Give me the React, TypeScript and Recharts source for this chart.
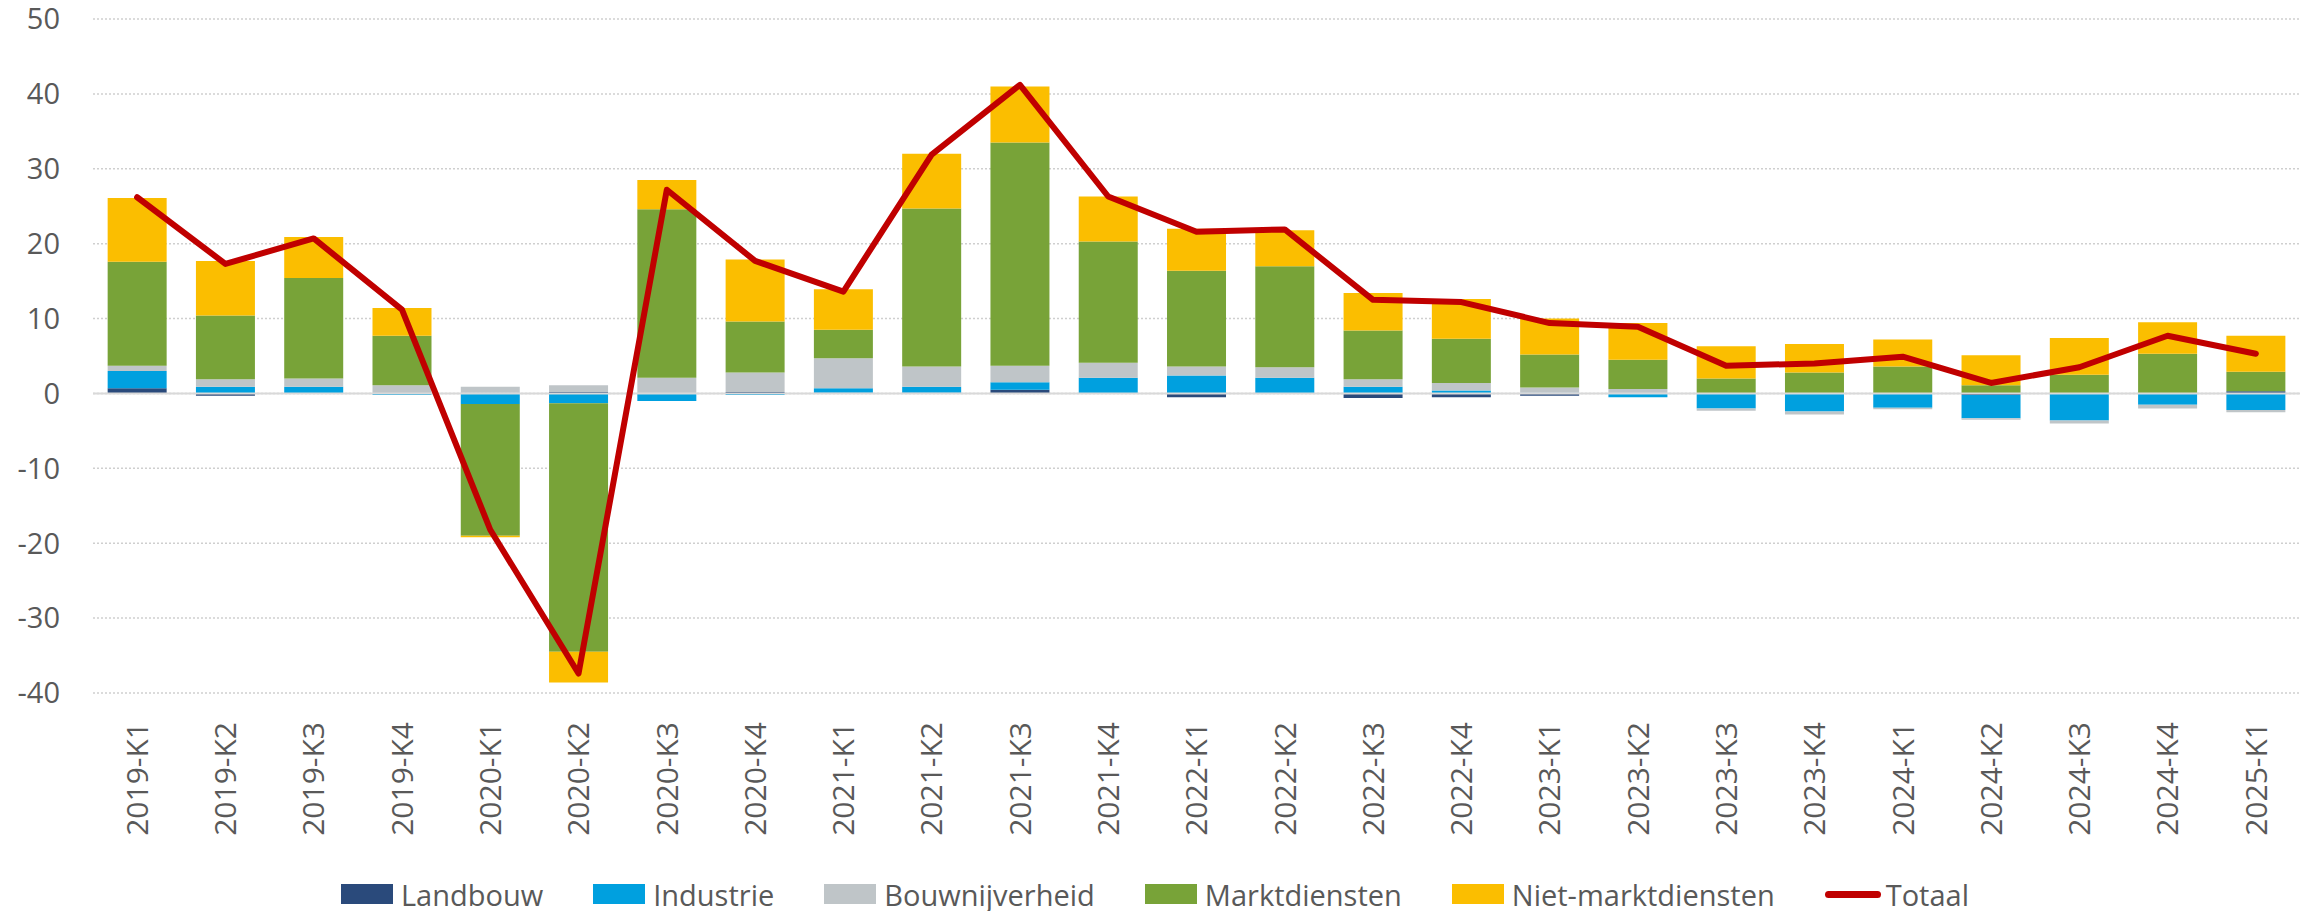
import React from 'react'
import {
  ComposedChart, Bar, Line, XAxis, YAxis, CartesianGrid, Legend, ReferenceLine,
} from 'recharts'

// ─── Data ────────────────────────────────────────────────────────────────────
const categories = [
  '2019-K1', '2019-K2', '2019-K3', '2019-K4',
  '2020-K1', '2020-K2', '2020-K3', '2020-K4',
  '2021-K1', '2021-K2', '2021-K3', '2021-K4',
  '2022-K1', '2022-K2', '2022-K3', '2022-K4',
  '2023-K1', '2023-K2', '2023-K3', '2023-K4',
  '2024-K1', '2024-K2', '2024-K3', '2024-K4',
  '2025-K1',
]

const landbouw = [0.7, -0.3, 0.0, 0.0, 0.1, 0.2, 0.0, 0.2, 0.1, 0.1, 0.5, 0.0, -0.5, 0.0, -0.6, -0.5, -0.3, 0.0, 0.0, 0.0, 0.0, -0.2, 0.0, 0.0, 0.3]
const industrie = [2.3, 0.9, 0.9, -0.2, -1.4, -1.3, -1.0, -0.2, 0.6, 0.8, 1.0, 2.1, 2.4, 2.1, 0.9, 0.4, 0.1, -0.5, -2.0, -2.4, -1.9, -3.1, -3.6, -1.5, -2.2]
const bouwnijverheid = [0.7, 1.0, 1.1, 1.1, 0.8, 0.9, 2.1, 2.6, 4.0, 2.7, 2.2, 2.0, 1.2, 1.4, 1.0, 1.0, 0.7, 0.6, -0.3, -0.4, -0.2, -0.2, -0.4, -0.5, -0.3]
const marktdiensten = [13.9, 8.5, 13.4, 6.6, -17.6, -33.2, 22.5, 6.8, 3.8, 21.1, 29.8, 16.2, 12.8, 13.5, 6.5, 5.9, 4.4, 3.9, 2.0, 2.8, 3.6, 1.1, 2.5, 5.3, 2.6]
const nietMarktdiensten = [8.5, 7.3, 5.5, 3.7, -0.2, -4.1, 3.9, 8.3, 5.4, 7.3, 7.5, 6.0, 5.6, 4.8, 5.0, 5.3, 4.8, 4.9, 4.3, 3.8, 3.6, 4.0, 4.9, 4.2, 4.8]
const totaal = [26.2, 17.3, 20.7, 11.2, -18.2, -37.4, 27.2, 17.7, 13.6, 31.9, 41.2, 26.3, 21.6, 21.9, 12.5, 12.2, 9.4, 8.9, 3.7, 4.0, 4.9, 1.4, 3.5, 7.7, 5.3]

const yTicks = [-40, -30, -20, -10, 0, 10, 20, 30, 40, 50]

const series = [
  { key: 'landbouw', name: 'Landbouw', color: '#2A4A7B' },
  { key: 'industrie', name: 'Industrie', color: '#00A0DF' },
  { key: 'bouwnijverheid', name: 'Bouwnijverheid', color: '#BFC5C8' },
  { key: 'marktdiensten', name: 'Marktdiensten', color: '#78A338' },
  { key: 'nietMarktdiensten', name: 'Niet-marktdiensten', color: '#FBBE00' },
]
const lineColor = '#C00000'

const data = categories.map((cat, i) => ({
  cat,
  landbouw: landbouw[i],
  industrie: industrie[i],
  bouwnijverheid: bouwnijverheid[i],
  marktdiensten: marktdiensten[i],
  nietMarktdiensten: nietMarktdiensten[i],
  totaal: totaal[i],
}))

const FONT = '"Open Sans", sans-serif'
const TEXT = '#595959'

// ─── Rotated category label ──────────────────────────────────────────────────
function CatTick({ x, y, payload }: any) {
  return (
    <text
      x={x}
      y={y}
      dy="0.36em"
      textAnchor="end"
      transform={`rotate(-90, ${x}, ${y})`}
      fill={TEXT}
      fontSize={30}
      fontFamily={FONT}
    >
      {payload.value}
    </text>
  )
}

// ─── Legend ──────────────────────────────────────────────────────────────────
function ChartLegend() {
  return (
    <div style={{
      display: 'flex', justifyContent: 'center', alignItems: 'center',
      width: 2310, height: 40, fontFamily: FONT, fontSize: 29, color: TEXT,
    }}>
      {series.map(s => (
        <div key={s.key} style={{ display: 'flex', alignItems: 'center', marginRight: 50 }}>
          <div style={{ width: 52, height: 20, background: s.color, marginRight: 8 }} />
          <span>{s.name}</span>
        </div>
      ))}
      <div style={{ display: 'flex', alignItems: 'center' }}>
        <div style={{ width: 56, height: 7, borderRadius: 4, background: lineColor, marginRight: 5 }} />
        <span>Totaal</span>
      </div>
    </div>
  )
}

export default function App() {
  return (
    <div style={{ position: 'absolute', left: 0, top: 0, background: '#fff' }}>
      <ComposedChart
        width={2310}
        height={911}
        data={data}
        stackOffset="sign"
        barCategoryGap="16.6%"
        margin={{ top: 19, right: 10, bottom: 68, left: 0 }}
      >
        <CartesianGrid vertical={false} stroke="#CFCFCF" strokeWidth={1.5} strokeDasharray="2 2" />
        <XAxis
          dataKey="cat"
          height={150}
          axisLine={false}
          tickLine={false}
          tickSize={0}
          tickMargin={29}
          interval={0}
          tick={<CatTick />}
        />
        <YAxis
          width={93}
          domain={[-40, 50]}
          ticks={yTicks}
          axisLine={false}
          tickLine={false}
          tickSize={0}
          tickMargin={33}
          tick={{ fill: TEXT, fontSize: 29, fontFamily: FONT }}
        />
        {series.map(s => (
          <Bar
            key={s.key}
            dataKey={s.key}
            name={s.name}
            stackId="a"
            fill={s.color}
            isAnimationActive={false}
          />
        ))}
        <ReferenceLine y={0} stroke="#D9D9D9" strokeWidth={2} />
        <Line
          dataKey="totaal"
          name="Totaal"
          stroke={lineColor}
          strokeWidth={6}
          strokeLinecap="round"
          strokeLinejoin="round"
          dot={false}
          isAnimationActive={false}
        />
        <Legend
          layout="vertical"
          verticalAlign="middle"
          align="center"
          wrapperStyle={{ left: 0, top: 874, width: 2310 }}
          content={<ChartLegend />}
        />
      </ComposedChart>
    </div>
  )
}
